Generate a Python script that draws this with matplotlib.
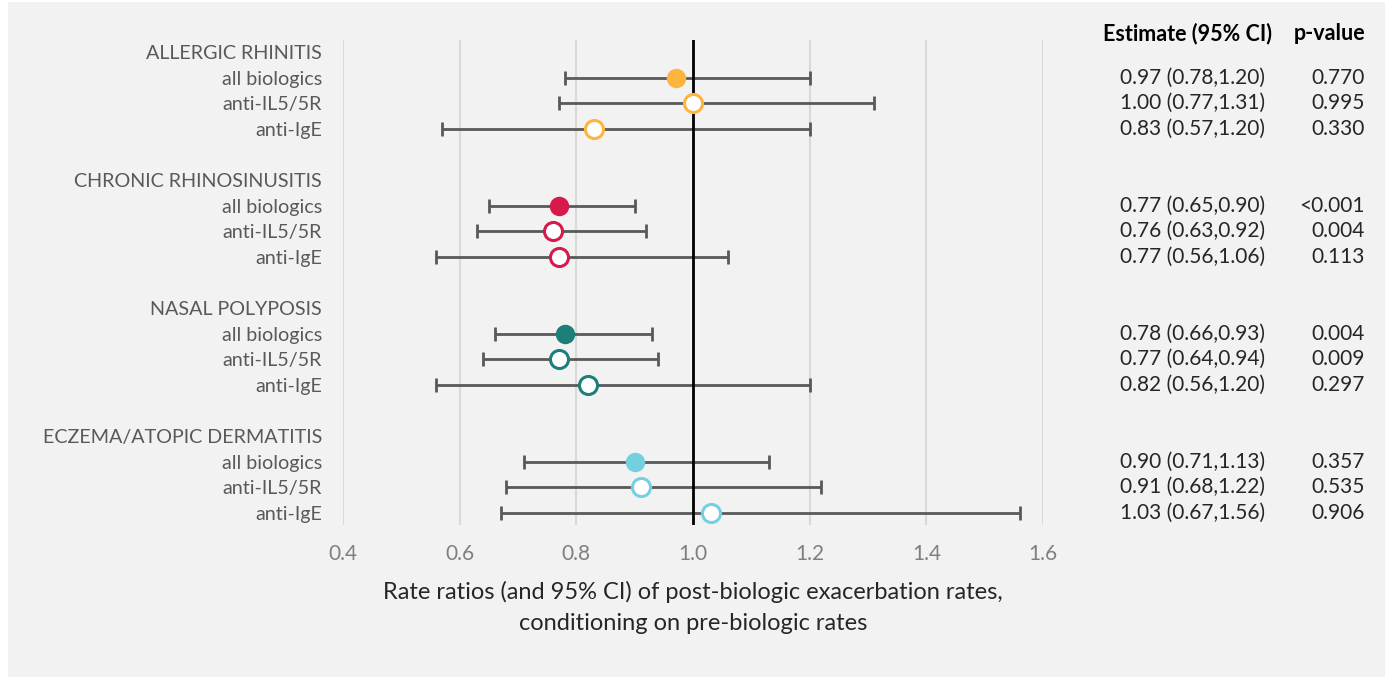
import matplotlib
matplotlib.use("Agg")
import matplotlib.pyplot as plt
from matplotlib.patches import Rectangle
from matplotlib.transforms import blended_transform_factory

plt.rcParams['font.family'] = ['Lato', 'DejaVu Sans']

groups = ["ALLERGIC RHINITIS", "CHRONIC RHINOSINUSITIS", "NASAL POLYPOSIS", "ECZEMA/ATOPIC DERMATITIS"]
subgroups = ["all biologics", "anti-IL5/5R", "anti-IgE"]
group_colors = ["#FDB53F", "#D7194B", "#1E7E78", "#74D0DF"]

estimates = [[0.97, 1.00, 0.83],
             [0.77, 0.76, 0.77],
             [0.78, 0.77, 0.82],
             [0.90, 0.91, 1.03]]
lower = [[0.78, 0.77, 0.57],
         [0.65, 0.63, 0.56],
         [0.66, 0.64, 0.56],
         [0.71, 0.68, 0.67]]
upper = [[1.20, 1.31, 1.20],
         [0.90, 0.92, 1.06],
         [0.93, 0.94, 1.20],
         [1.13, 1.22, 1.56]]
pvalues = [["0.770", "0.995", "0.330"],
           ["<0.001", "0.004", "0.113"],
           ["0.004", "0.009", "0.297"],
           ["0.357", "0.535", "0.906"]]
xticks = [0.4, 0.6, 0.8, 1.0, 1.2, 1.4, 1.6]
xlabel = "Rate ratios (and 95% CI) of post-biologic exacerbation rates,\nconditioning on pre-biologic rates"

W, H = 1385, 677
fig = plt.figure(figsize=(W / 100, H / 100), dpi=100, facecolor="white")
bg = Rectangle((8 / W, 0), 1 - 8 / W, 1 - 2 / H, transform=fig.transFigure,
               facecolor="#F2F2F2", edgecolor="none", zorder=-10)
fig.add_artist(bg)

ax = fig.add_axes([343 / W, (H - 525) / H, 700 / W, 485 / H])
ax.set_zorder(1)
ax.set_facecolor("none")
ax.set_xlim(0.4, 1.6)
ax.set_ylim(18.47, -0.47)

ytick_pos, ytick_lab = [], []
for g, gname in enumerate(groups):
    base = 5 * g
    ytick_pos.append(base)
    ytick_lab.append(gname)
    for s, sname in enumerate(subgroups):
        y = base + 1 + s
        ytick_pos.append(y)
        ytick_lab.append(sname)
        est, lo, hi = estimates[g][s], lower[g][s], upper[g][s]
        ax.errorbar([est], [y], xerr=[[est - lo], [hi - est]], fmt="none",
                    ecolor="#595959", elinewidth=2, capsize=5, capthick=2, zorder=3)
        if s == 0:
            ax.plot([est], [y], "o", ms=14, mfc=group_colors[g], mec=group_colors[g], mew=0, zorder=5)
        else:
            ax.plot([est], [y], "o", ms=13, mfc="white", mec=group_colors[g], mew=2.2, zorder=5)

ax.axvline(1.0, color="black", lw=2, zorder=4)
for xt in xticks:
    if xt != 1.0:
        ax.axvline(xt, color="#D9D9D9", lw=1.5, zorder=1)

ax.set_xticks(xticks)
ax.set_xticklabels([f"{x:.1f}" for x in xticks], color="#7F7F7F", fontsize=15)
ax.tick_params(axis="x", length=0, pad=14)
ax.set_yticks(ytick_pos)
ax.set_yticklabels(ytick_lab, color="#595959", fontsize=14.2)
ax.tick_params(axis="y", length=0, pad=15)
for sp in ax.spines.values():
    sp.set_visible(False)

ax.set_xlabel(xlabel, fontsize=17, color="#262626", labelpad=12, linespacing=1.55)

tr = blended_transform_factory(fig.transFigure, ax.transData)
ax.text(1272 / W, -0.74, "Estimate (95% CI)", transform=tr, ha="right", va="center",
        fontsize=15.5, fontweight="bold", color="black", clip_on=False)
ax.text(1365 / W, -0.74, "p-value", transform=tr, ha="right", va="center",
        fontsize=15.5, fontweight="bold", color="black", clip_on=False)
for g in range(len(groups)):
    for s in range(len(subgroups)):
        y = 5 * g + 1 + s
        txt = f"{estimates[g][s]:.2f} ({lower[g][s]:.2f},{upper[g][s]:.2f})"
        ax.text(1265 / W, y, txt, transform=tr, ha="right", va="center",
                fontsize=15, color="#262626", clip_on=False)
        ax.text(1365 / W, y, pvalues[g][s], transform=tr, ha="right", va="center",
                fontsize=15, color="#262626", clip_on=False)

fig.savefig("out.png", dpi=100, facecolor=fig.get_facecolor())
